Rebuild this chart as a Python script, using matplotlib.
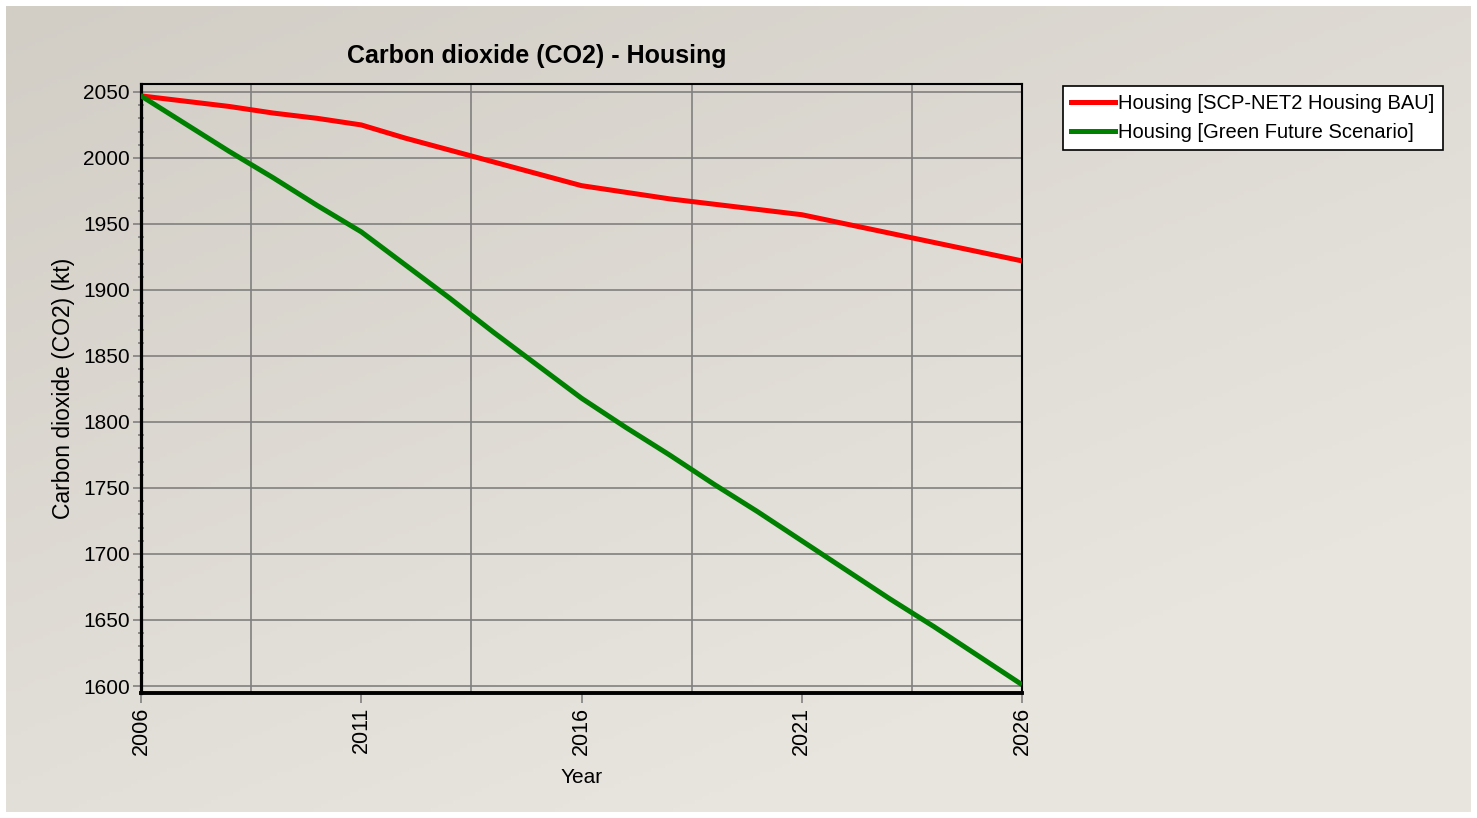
import numpy as np
import matplotlib.pyplot as plt
from matplotlib.ticker import FixedLocator, MultipleLocator
from matplotlib.lines import Line2D

plt.rcParams['font.family'] = ['Liberation Sans', 'DejaVu Sans']

# data
years = list(range(2006, 2027))
bau = [2047, 2043, 2039, 2034, 2030, 2025, 2015, 2006, 1997, 1988, 1979,
       1974, 1969, 1965, 1961, 1957, 1950, 1943, 1936, 1929, 1922]
green = [2047, 2026, 2005, 1985, 1964, 1944, 1919, 1894, 1868, 1843, 1818,
         1796, 1775, 1753, 1732, 1710, 1688, 1666, 1645, 1623, 1601]
series_names = ["Housing [SCP-NET2 Housing BAU]", "Housing [Green Future Scenario]"]
series_colors = ["#ff0000", "#008000"]
x_ticks = [2006, 2011, 2016, 2021, 2026]
y_ticks = [1600, 1650, 1700, 1750, 1800, 1850, 1900, 1950, 2000, 2050]

W, H = 1477, 818
fig = plt.figure(figsize=(W / 100, H / 100), dpi=100)
fig.patch.set_facecolor("white")

# gradient background panel
bg = fig.add_axes([6 / W, 6 / H, (W - 12) / W, (H - 12) / H])
gx, gy = np.meshgrid(np.linspace(0, 1, 200), np.linspace(0, 1, 200))
t = np.clip(0.55 * gx + 0.75 * gy, 0, 1)
c0 = np.array([210, 206, 198]) / 255
c1 = np.array([232, 229, 223]) / 255
img = c0[None, None, :] * (1 - t[..., None]) + c1[None, None, :] * t[..., None]
bg.imshow(img, aspect="auto", extent=[0, 1, 0, 1], origin="upper")
bg.axis("off")

# plot area
L, R, T, B = 141, 1022, 84, 693
ax = fig.add_axes([L / W, 1 - B / H, (R - L) / W, (B - T) / H])
ax.patch.set_alpha(0)

ax.plot(years, bau, color=series_colors[0], lw=3.6, solid_capstyle="butt", zorder=3)
ax.plot(years, green, color=series_colors[1], lw=3.6, solid_capstyle="butt", zorder=3)

ax.set_xlim(2006, 2026)
ax.set_ylim(1594.7, 2056)
ax.xaxis.set_major_locator(FixedLocator(x_ticks))
ax.xaxis.set_minor_locator(FixedLocator([2008.5, 2013.5, 2018.5, 2023.5]))
ax.yaxis.set_major_locator(FixedLocator(y_ticks))
ax.yaxis.set_minor_locator(MultipleLocator(10))

ax.grid(which="minor", axis="x", color="#808080", lw=1.2)
ax.grid(which="major", axis="y", color="#808080", lw=1.2)
ax.set_axisbelow(True)

ax.tick_params(axis="x", which="major", direction="out", length=7, width=1.2,
               color="#808080", labelsize=15.5, labelrotation=90, pad=3)
ax.tick_params(axis="x", which="minor", length=0)
ax.tick_params(axis="y", which="major", direction="out", length=6, width=1.2,
               color="#808080", labelsize=15, pad=2)
ax.tick_params(axis="y", which="minor", direction="inout", length=4, width=1.2,
               color="#808080")
ax.set_xticklabels([str(v) for v in x_ticks])

for side, lw in [("left", 2.3), ("bottom", 2.8), ("top", 1.5), ("right", 1.5)]:
    ax.spines[side].set_color("black")
    ax.spines[side].set_linewidth(lw)

ax.set_xlabel("Year", fontsize=15, labelpad=9)
ax.set_ylabel("Carbon dioxide (CO2) (kt)", fontsize=16.5, labelpad=6)
fig.text(537 / W, 1 - 56 / H, "Carbon dioxide (CO2) - Housing", fontsize=18,
         fontweight="bold", ha="center", va="center")

handles = [Line2D([], [], color=c, lw=3.6) for c in series_colors]
leg = fig.legend(handles, series_names, loc="upper left",
                 bbox_to_anchor=(1063 / W, 1 - 86 / H), fontsize=14.5,
                 frameon=True, fancybox=False, edgecolor="black", framealpha=1,
                 handlelength=2.2, handletextpad=0.15, borderpad=0.4,
                 labelspacing=0.5, borderaxespad=0)
leg.get_frame().set_linewidth(1.2)
leg.get_frame().set_facecolor("white")

fig.savefig("out.png", dpi=100)
